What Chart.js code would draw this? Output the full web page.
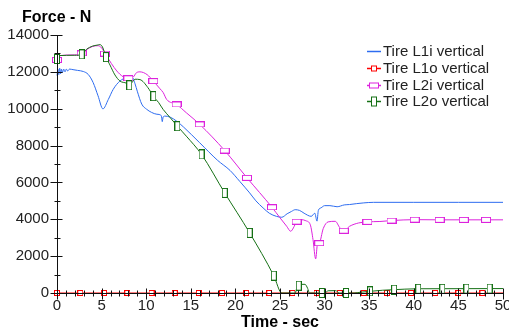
<!DOCTYPE html>
<html><head><meta charset="utf-8">
<script src="https://cdn.jsdelivr.net/npm/chart.js@4.4.1/dist/chart.umd.min.js"></script>
<style>
html,body{margin:0;padding:0;background:#fff;}
#wrap{position:relative;width:509px;height:334px;overflow:hidden;font-family:"Liberation Sans",Arial,sans-serif;}
#c{position:absolute;left:0;top:0;}
#ytitle{position:absolute;left:22px;top:7px;font-weight:bold;font-size:16px;line-height:20px;color:#000;}
.leg{position:absolute;left:366px;height:16px;font-size:15px;line-height:16px;color:#222;white-space:nowrap;}
.leg svg{position:absolute;left:0;top:0;}
.leg span{position:absolute;left:17px;top:0;}
</style></head>
<body>
<div id="wrap">
<canvas id="c" width="509" height="334"></canvas>
<div id="ytitle">Force - N</div>
<div id="legend"></div>
</div>
<script>
// ---------- data ----------
const seriesNames = ['Tire L1i vertical', 'Tire L1o vertical', 'Tire L2i vertical', 'Tire L2o vertical'];
const xTicks = [0, 5, 10, 15, 20, 25, 30, 35, 40, 45, 50];
const yTicks = [0, 2000, 4000, 6000, 8000, 10000, 12000, 14000];

const l1iTime  = [0, 0.1, 0.2, 0.3, 0.4, 0.5, 0.6, 0.75, 0.9, 1.05, 1.2, 1.4, 1.8, 2.3, 2.95, 3.5, 4.05, 4.6, 5.15, 5.75, 6.3, 7.05, 7.8, 8.45, 8.75, 9.0, 9.5, 10.05, 10.6, 11.2, 11.7, 11.8, 11.9, 12.1, 12.7, 13.4, 14.2, 16.0, 18.0, 19.4, 20.5, 21.6, 22.3, 23.1, 23.8, 24.6, 25.2, 25.8, 26.3, 26.7, 27.2, 27.7, 28.5, 28.9, 29.15, 29.3, 29.6, 30.0, 30.6, 31.4, 32.2, 32.8, 33.6, 34.4, 35.5, 40, 45, 50];
const l1iForce = [11800, 12150, 11850, 12200, 11900, 12150, 11950, 12150, 12000, 12150, 12050, 12150, 12120, 12080, 12020, 11860, 11420, 10700, 9990, 10500, 11050, 11500, 11680, 11700, 11350, 10950, 10250, 9970, 9800, 9700, 9620, 9300, 9550, 9600, 9540, 9330, 9000, 8150, 7200, 6650, 6050, 5430, 5000, 4620, 4330, 4160, 4110, 4300, 4430, 4520, 4480, 4330, 4160, 4330, 3900, 4480, 4620, 4740, 4740, 4680, 4780, 4800, 4850, 4890, 4920, 4920, 4920, 4920];

const l1oTime  = [0, 50];
const l1oForce = [0, 0];
const l1oMarkTime  = [0, 2.61, 5.27, 7.88, 10.6, 13.2, 15.9, 18.5, 21.2, 23.8, 26.4, 29.1, 31.7, 34.4, 37.0, 39.7, 42.4, 45.0, 47.7];
const l1oMarkForce = [0, 0, 0, 0, 0, 0, 0, 0, 0, 0, 0, 0, 0, 0, 0, 0, 0, 0, 0];

const l2iTime  = [0, 0.3, 2.0, 2.77, 3.3, 4.0, 4.6, 5.0, 5.38, 5.7, 6.1, 6.7, 7.4, 8.0, 8.55, 8.9, 9.3, 10.1, 10.8, 11.55, 11.9, 12.3, 13.4, 14.5, 16.0, 18.8, 21.3, 24.1, 25.0, 25.75, 26.2, 26.5, 26.85, 27.4, 27.9, 28.4, 28.7, 29.0, 29.2, 29.4, 29.85, 30.4, 31.2, 31.7, 32.15, 32.8, 33.8, 34.8, 36.2, 37.5, 40.1, 42.9, 50];
const l2iForce = [12650, 12880, 12920, 13000, 13200, 13380, 13420, 13300, 13000, 12750, 12450, 12050, 11740, 11650, 11720, 11950, 12000, 11850, 11500, 11080, 10880, 10500, 10230, 9780, 9150, 7730, 6250, 4650, 4080, 3620, 3350, 3530, 3870, 3980, 3920, 3700, 2900, 1850, 2650, 2700, 3500, 3860, 3890, 3550, 3380, 3620, 3800, 3860, 3880, 3930, 3980, 3970, 3970];
const l2iMarkTime  = [0, 2.77, 5.38, 8.0, 10.8, 13.4, 16.0, 18.8, 21.3, 24.1, 26.85, 29.4, 32.15, 34.8, 37.5, 40.1, 42.9, 45.6, 48.1];
const l2iMarkForce = [12650, 13000, 12990, 11650, 11500, 10230, 9150, 7730, 6250, 4650, 3870, 2700, 3380, 3860, 3930, 3980, 3970, 3970, 3970];

const l2oTime  = [0, 0.15, 2.0, 2.77, 3.3, 4.0, 4.5, 4.8, 5.1, 5.5, 5.94, 6.5, 7.06, 7.8, 8.1, 8.45, 8.75, 9.3, 10.2, 10.8, 11.4, 11.9, 12.7, 13.5, 14.5, 16.2, 18.8, 21.6, 24.3, 25.2, 26.7, 26.9, 27.2, 27.8, 28.1, 28.3, 30.0, 30.4, 31.2, 31.7, 33.3, 34.0, 35.1, 36.5, 37.8, 39.0, 40.5, 50];
const l2oForce = [12650, 12880, 12900, 12950, 13220, 13400, 13450, 13480, 13350, 12800, 12370, 11830, 11500, 11380, 11270, 11450, 11600, 11580, 11140, 10680, 10330, 9960, 9510, 9050, 8510, 7520, 5430, 3260, 940, 0, 0, 300, 470, 470, 250, 0, 0, 120, 130, 0, 0, 40, 90, 150, 180, 210, 230, 240];
const l2oMarkTime  = [0, 2.77, 5.49, 8.1, 10.8, 13.5, 16.2, 18.8, 21.6, 24.3, 27.1, 29.7, 32.4, 35.1, 37.8, 40.5, 43.2, 45.9, 48.5];
const l2oMarkForce = [12700, 12950, 12800, 11270, 10680, 9050, 7520, 5430, 3260, 940, 400, 0, 0, 90, 180, 230, 230, 235, 240];

// ---------- styles ----------
const colBlue = '#2d6cf0', colRed = '#ff0000', colMag = '#dd22dd', colGreen = '#157015';

function pts(t, f) { return t.map((v, i) => ({x: v, y: f[i]})); }
function rectImg(w, h, color) {
  const c = document.createElement('canvas');
  c.width = w; c.height = h;
  const g = c.getContext('2d');
  g.fillStyle = '#fff'; g.fillRect(0, 0, w, h);
  g.strokeStyle = color; g.lineWidth = 1; g.strokeRect(0.5, 0.5, w - 1, h - 1);
  return c;
}
const mkRed = rectImg(6, 6, colRed);
const mkMag = rectImg(10, 6, colMag);
const mkGreen = rectImg(6, 10, colGreen);

function lineDs(label, data, color, order) {
  return {label, data, borderColor: color, borderWidth: 1, pointRadius: 0, fill: false,
    cubicInterpolationMode: 'monotone', order, clip: false};
}
function markDs(label, data, img, color, order) {
  return {label, data, showLine: false, pointStyle: img, pointRadius: 3, pointHoverRadius: 3,
    borderColor: color, backgroundColor: '#fff', order, clip: false};
}

const axisPlugin = {
  id: 'axisTicks',
  afterDraw(chart) {
    const {ctx, scales: {x, y}, chartArea: a} = chart;
    ctx.save();
    ctx.strokeStyle = '#111';
    ctx.lineWidth = 1;
    ctx.beginPath();
    const ax = Math.round(a.left) + 0.5, ay = Math.round(a.bottom) + 0.5;
    ctx.moveTo(ax, Math.round(a.top)); ctx.lineTo(ax, ay);
    ctx.moveTo(ax, ay); ctx.lineTo(Math.round(a.right) + 1, ay);
    for (let v = 0; v <= 14000; v += 1000) {
      const py = Math.round(y.getPixelForValue(v)) + 0.5;
      const major = v % 2000 === 0;
      ctx.moveTo(ax - (major ? 7 : 3), py); ctx.lineTo(ax + (major ? 5 : 3), py);
    }
    for (let v = 0; v <= 50; v += 1) {
      const px = Math.round(x.getPixelForValue(v)) + 0.5;
      const major = v % 5 === 0;
      ctx.moveTo(px, ay - (major ? 5 : 3)); ctx.lineTo(px, ay + (major ? 6 : 3));
    }
    ctx.stroke();
    ctx.restore();
  }
};

new Chart(document.getElementById('c'), {
  type: 'line',
  data: {
    datasets: [
      lineDs(seriesNames[0], pts(l1iTime, l1iForce), colBlue, 7),
      lineDs(seriesNames[1], pts(l1oTime, l1oForce), colRed, 6),
      markDs(seriesNames[1], pts(l1oMarkTime, l1oMarkForce), mkRed, colRed, 5),
      lineDs(seriesNames[2], pts(l2iTime, l2iForce), colMag, 4),
      markDs(seriesNames[2], pts(l2iMarkTime, l2iMarkForce), mkMag, colMag, 3),
      lineDs(seriesNames[3], pts(l2oTime, l2oForce), colGreen, 2),
      markDs(seriesNames[3], pts(l2oMarkTime, l2oMarkForce), mkGreen, colGreen, 1)
    ]
  },
  options: {
    responsive: false, animation: false, devicePixelRatio: 1,
    layout: {padding: {top: 35, right: 6, left: 0, bottom: 0}},
    plugins: {legend: {display: false}, tooltip: {enabled: false}},
    scales: {
      x: {
        type: 'linear', min: 0, max: 50, position: 'bottom',
        afterBuildTicks(s) { s.ticks = xTicks.map(v => ({value: v})); },
        afterFit(s) { s.height = 41; s.paddingLeft = 0; s.paddingRight = 0; },
        grid: {display: false, drawTicks: false}, border: {display: false},
        ticks: {color: '#222', font: {family: 'Liberation Sans', size: 15}, padding: 4, maxRotation: 0, autoSkip: false,
          callback: v => String(v)},
        title: {display: true, text: 'Time - sec', color: '#000', font: {family: 'Liberation Sans', size: 16, weight: 'bold', lineHeight: 1.2},
          padding: {top: 0, bottom: 2}}
      },
      y: {
        type: 'linear', min: 0, max: 14000,
        afterBuildTicks(s) { s.ticks = yTicks.map(v => ({value: v})); },
        afterFit(s) { s.width = 57; },
        grid: {display: false, drawTicks: false}, border: {display: false},
        ticks: {color: '#222', font: {family: 'Liberation Sans', size: 15}, padding: 8, callback: v => String(v)}
      }
    }
  },
  plugins: [axisPlugin]
});

// ---------- legend ----------
const legendItems = [
  {color: colBlue, marker: null},
  {color: colRed, marker: [5, 5]},
  {color: colMag, marker: [9, 5]},
  {color: colGreen, marker: [5, 9]}
];
const legendTops = [43, 60, 77, 93];
const leg = document.getElementById('legend');
legendItems.forEach((it, i) => {
  const d = document.createElement('div');
  d.className = 'leg';
  d.style.top = legendTops[i] + 'px';
  let svg = '<svg width="16" height="16"><line x1="1" y1="8.5" x2="15" y2="8.5" stroke="' + it.color + '" stroke-width="1.5"/>';
  if (it.marker) {
    const [w, h] = it.marker;
    svg += '<rect x="' + (8 - w / 2) + '" y="' + (8.5 - h / 2) + '" width="' + w + '" height="' + h + '" fill="#fff" stroke="' + it.color + '" stroke-width="1"/>';
  }
  svg += '</svg>';
  d.innerHTML = svg + '<span>' + seriesNames[i] + '</span>';
  leg.appendChild(d);
});
</script>
</body></html>
